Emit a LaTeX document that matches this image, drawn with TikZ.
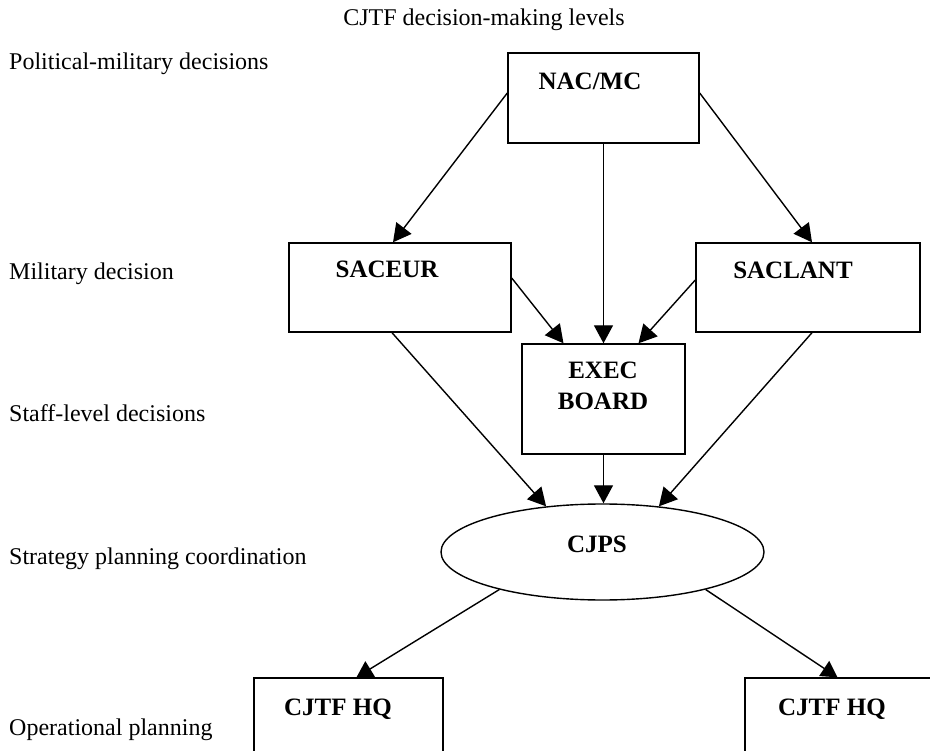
\documentclass[tikz,border=0pt]{standalone}
\usepackage{fontspec}
\setmainfont{Liberation Serif}
\usetikzlibrary{arrows.meta,shapes.geometric}

\begin{document}
\begin{tikzpicture}[x=1pt,y=-1pt,
  levelbox/.style n args={2}{draw=black,line width=1.4pt,inner sep=0pt,
    minimum width=#1,minimum height=#2},
  boxtxt/.style={font=\fontsize{25}{31}\selectfont\bfseries,align=center,inner sep=0pt},
  leveltxt/.style={font=\fontsize{24}{29}\selectfont,anchor=base west,inner sep=0pt}]

\path[use as bounding box] (0,0) rectangle (930,751);
\clip (0,0) rectangle (930,751);

    % title and the levels on the left
    \node[leveltxt,anchor=base] (title) at (484,26) {CJTF decision-making levels};
    \node[leveltxt] (polmil) at (9,70) {Political-military decisions};
    \node[leveltxt] (mil) at (9,280) {Military decision};
    \node[leveltxt] (staff) at (9,422) {Staff-level decisions};
    \node[leveltxt] (strat) at (9,564) {Strategy planning coordination};
    \node[leveltxt] (oper) at (9,735) {Operational planning};

    % boxes
    \node[levelbox={191pt}{90pt}] (nac) at (603.5,98) {};
    \node[levelbox={222pt}{89pt}] (saceur) at (400,287.5) {};
    \node[levelbox={224pt}{89pt}] (saclant) at (808,287.5) {};
    \node[levelbox={163pt}{110pt}] (exec) at (603.5,399) {};
    \node[ellipse,draw=black,line width=1.4pt,inner sep=0pt,
      minimum width=323pt,minimum height=96pt] (cjps) at (602.5,552) {};
    \node[levelbox={189pt}{90pt}] (hqa) at (348.5,723) {};
    \node[levelbox={189pt}{90pt}] (hqb) at (839.5,723) {};

    \node[boxtxt,anchor=base] (nac-txt) at (590,90) {NAC/MC};
    \node[boxtxt,anchor=base] (saceur-txt) at (387,278) {SACEUR};
    \node[boxtxt,anchor=base] (saclant-txt) at (793,279) {SACLANT};
    \node[boxtxt] (exec-txt) at (603,385.5) {EXEC\\BOARD};
    \node[boxtxt,anchor=base] (cjps-txt) at (597,552) {CJPS};
    \node[boxtxt,anchor=base] (hqa-txt) at (338,715) {CJTF HQ};
    \node[boxtxt,anchor=base] (hqb-txt) at (832,715) {CJTF HQ};

\begin{scope}[>={Triangle[length=18pt,width=19pt]},line width=1.4pt]

    \draw[->] ([yshift=5pt]nac.west) -- ([xshift=-7pt]saceur.north);
    \draw[->] ([yshift=5pt]nac.east) -- ([xshift=4pt]saclant.north);
    \draw[->] (nac.south) -- (exec.north);
    \draw[->] ([yshift=9.5pt]saceur.east) -- ([xshift=-40pt]exec.north);
    \draw[->] ([yshift=7.5pt]saclant.west) -- ([xshift=35pt]exec.north);

    \draw[->] ([xshift=-8pt]saceur.south) -- (cjps.141);
    \draw[->] (exec.south) -- (exec.south |- cjps.north);
    \draw[->] ([xshift=4pt]saclant.south) -- (cjps.39);

    \draw[->,>={Triangle[length=16pt,width=18pt]}] (cjps.200) -- ([xshift=8pt]hqa.north);
    \draw[->,>={Triangle[length=16pt,width=18pt]}] (cjps.-20) -- ([xshift=-2pt]hqb.north);

\end{scope}
\end{tikzpicture}
\end{document}
